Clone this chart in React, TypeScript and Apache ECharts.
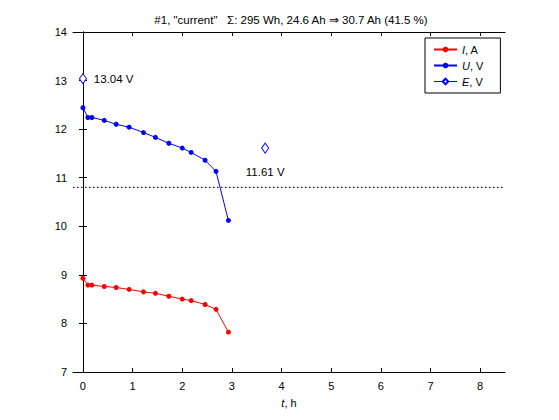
import React, { useEffect, useRef } from "react";
import * as echarts from "echarts";

const timeH = [0, 0.1, 0.18, 0.43, 0.67, 0.93, 1.22, 1.46, 1.73, 2.0, 2.18, 2.46, 2.68, 2.93];
const currentA = [8.93, 8.79, 8.79, 8.76, 8.74, 8.7, 8.65, 8.62, 8.56, 8.5, 8.47, 8.39, 8.29, 7.82];
const voltageV = [12.44, 12.24, 12.24, 12.18, 12.1, 12.04, 11.93, 11.83, 11.71, 11.61, 11.52, 11.36, 11.13, 10.12];
const energyT = [0, 3.67];
const energyV = [13.04, 11.61];
const cutoffV = 10.8;
const xRange = [-0.2, 8.5];
const xTicks = [0, 1, 2, 3, 4, 5, 6, 7, 8];
const titleText = '#1, "current"   Σ: 295 Wh, 24.6 Ah ⇒ 30.7 Ah (41.5 %)';

const FONT = "Liberation Sans, Arial, sans-serif";

export default function App() {
  const ref = useRef<HTMLDivElement>(null);
  useEffect(() => {
    if (!ref.current) return;
    const chart = echarts.init(ref.current, undefined, { renderer: "svg" });
    const axisLine = { show: true, lineStyle: { color: "#000", width: 1 } };
    const tick = { show: true, inside: true, length: 4, lineStyle: { color: "#000" } };
    const units: Record<string, string> = { I: "A", U: "V", E: "V" };
    chart.setOption({
      animation: false,
      backgroundColor: "#fff",
      textStyle: { fontFamily: FONT },
      title: {
        text: titleText,
        left: 286,
        top: 9,
        textAlign: "center",
        textStyle: { fontSize: 11.5, fontWeight: "normal", color: "#000", fontFamily: FONT },
      },
      legend: {
        orient: "vertical",
        left: 425,
        top: 38,
        padding: [5, 17, 5, 8],
        itemWidth: 23,
        itemHeight: 7,
        itemGap: 3,
        borderColor: "#000",
        borderWidth: 1,
        borderRadius: 0,
        backgroundColor: "#fff",
        textStyle: {
          fontSize: 11,
          lineHeight: 13,
          color: "#000",
          fontFamily: FONT,
          rich: { i: { fontStyle: "italic", fontSize: 11, lineHeight: 13, color: "#000", fontFamily: FONT } },
        },
        formatter: (name: string) => `{i|${name}}, ${units[name]}`,
        data: [
          { name: "I" },
          { name: "U" },
          { name: "E", lineStyle: { opacity: 1, width: 1, color: "#0000ff" } },
        ],
      },
      grid: { left: 73, top: 32, right: 54, bottom: 48 },
      xAxis: [
        {
          type: "value",
          min: xRange[0],
          max: xRange[1],
          axisLine,
          axisTick: { ...tick, customValues: xTicks },
          axisLabel: { customValues: xTicks, color: "#000", fontSize: 11, margin: 8, fontFamily: FONT },
          splitLine: { show: false },
          name: "{i|t}, h",
          nameLocation: "middle",
          nameGap: 25,
          nameTextStyle: {
            fontSize: 11,
            color: "#000",
            fontFamily: FONT,
            rich: { i: { fontStyle: "italic", fontSize: 11, color: "#000", fontFamily: FONT } },
          },
        },
        {
          type: "value",
          position: "top",
          min: xRange[0],
          max: xRange[1],
          axisLine,
          axisTick: { ...tick, customValues: xTicks },
          axisLabel: { show: false, customValues: xTicks },
          splitLine: { show: false },
        },
      ],
      yAxis: [
        {
          type: "value",
          min: 7,
          max: 14,
          interval: 1,
          axisLine,
          axisTick: tick,
          axisLabel: { color: "#000", fontSize: 11, margin: 6, fontFamily: FONT },
          splitLine: { show: false },
        },
        {
          type: "value",
          position: "right",
          min: 7,
          max: 14,
          interval: 1,
          axisLine,
          axisTick: tick,
          axisLabel: { show: false },
          splitLine: { show: false },
        },
      ],
      series: [
        {
          name: "cutoff",
          type: "line",
          data: xRange.map((x) => [x, cutoffV]),
          symbol: "none",
          silent: true,
          color: "#0000ff",
          itemStyle: { color: "#0000ff" },
          lineStyle: { color: "#0000ff", type: [1.5, 2.5], width: 1.3, cap: "butt" },
          z: 1,
        },
        {
          name: "I",
          type: "line",
          data: timeH.map((t, i) => [t, currentA[i]]),
          symbol: "circle",
          symbolSize: 5,
          color: "#ff0000",
          lineStyle: { color: "#ff0000", width: 1 },
          itemStyle: { color: "#ff0000" },
        },
        {
          name: "U",
          type: "line",
          data: timeH.map((t, i) => [t, voltageV[i]]),
          symbol: "circle",
          symbolSize: 5,
          color: "#0000ff",
          lineStyle: { color: "#0000ff", width: 1 },
          itemStyle: { color: "#0000ff" },
        },
        {
          name: "E",
          type: "line",
          data: energyT.map((t, i) => ({
            value: [t, energyV[i]],
            label:
              i === 0
                ? { show: true, position: "right", distance: 7 }
                : { show: true, position: "bottom", distance: 12 },
          })),
          symbol: "diamond",
          symbolSize: [7, 10],
          showAllSymbol: true,
          color: "#0000ff",
          lineStyle: { opacity: 0, width: 0 },
          itemStyle: { color: "#fff", borderColor: "#0000ff", borderWidth: 1 },
          label: {
            color: "#000",
            fontSize: 11.5,
            fontFamily: FONT,
            formatter: (p: any) => `${p.value[1].toFixed(2)} V`,
          },
        },
      ],
    });
    return () => chart.dispose();
  }, []);
  return <div ref={ref} style={{ position: "fixed", left: 0, top: 0, width: 559, height: 420 }} />;
}
